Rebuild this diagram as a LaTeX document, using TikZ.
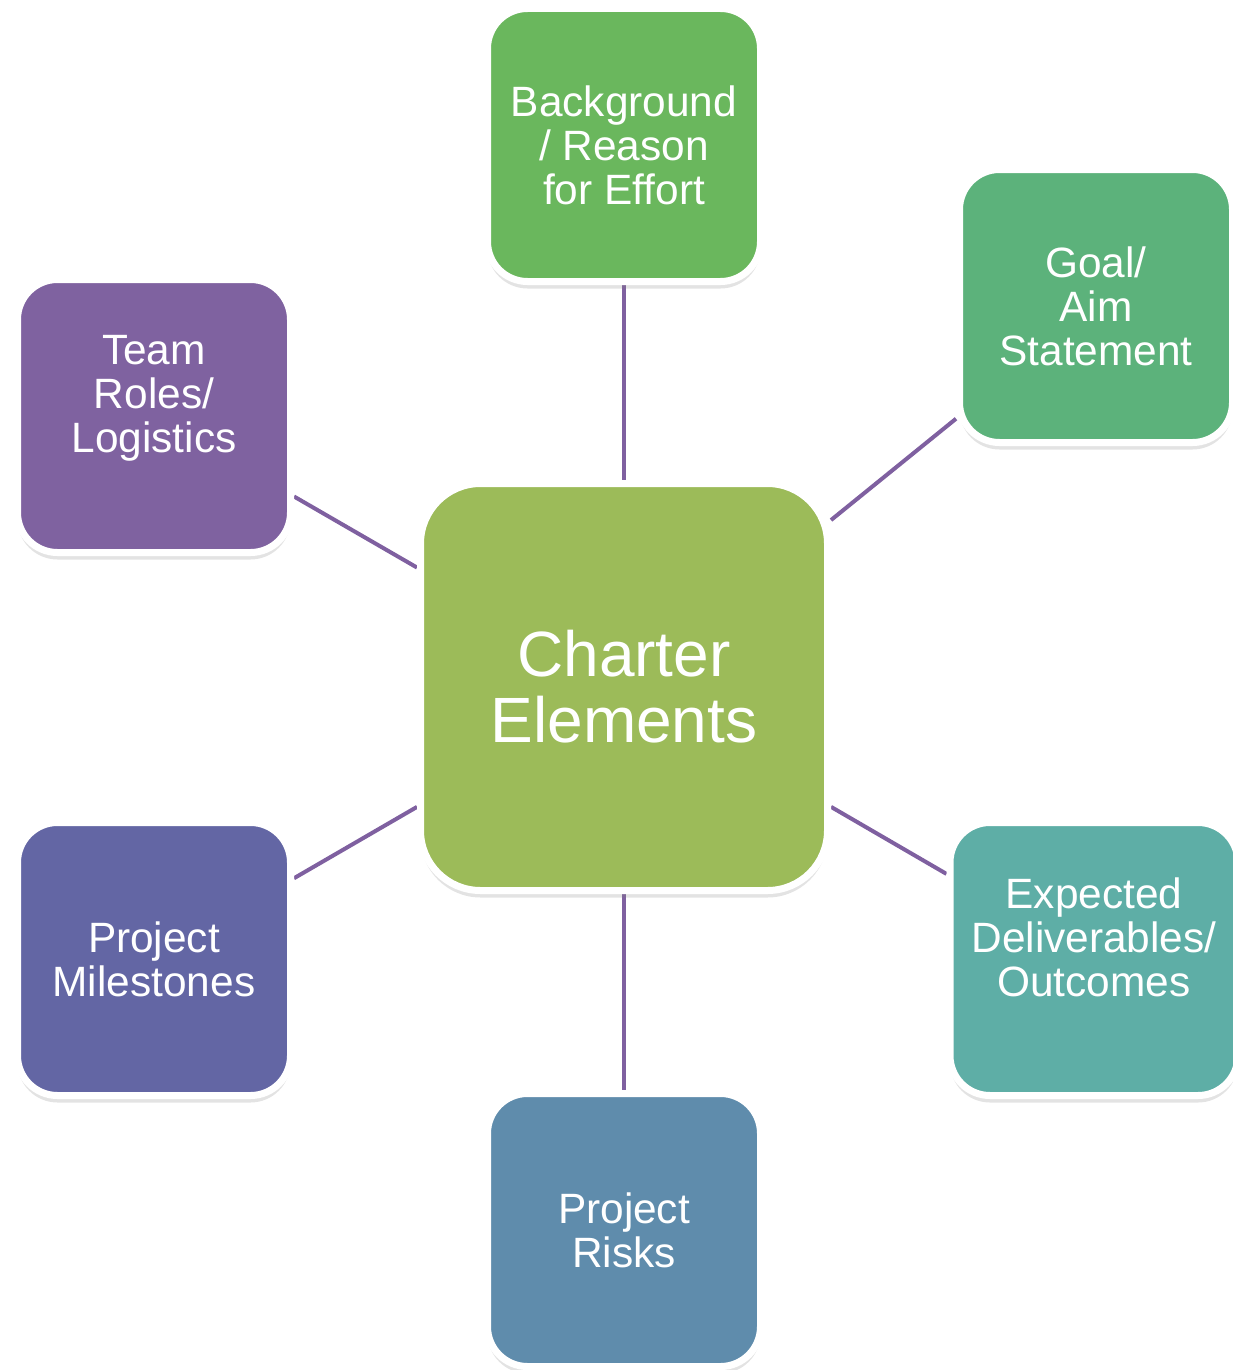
\documentclass[tikz,border=0pt]{standalone}
\usepackage{fontspec}
\setmainfont{Liberation Sans}
\definecolor{bggreen}{RGB}{106, 183, 93}
\definecolor{goalgreen}{RGB}{92, 178, 123}
\definecolor{outteal}{RGB}{94, 174, 166}
\definecolor{riskblue}{RGB}{95, 140, 172}
\definecolor{mileblue}{RGB}{99, 102, 164}
\definecolor{teampurple}{RGB}{127, 98, 160}
\definecolor{hubgreen}{RGB}{156, 187, 89}
\definecolor{linkpurple}{RGB}{127, 96, 160}
\usetikzlibrary{shadows, backgrounds}

\begin{document}
\begin{tikzpicture}[x=0.5pt, y=-0.5pt,
    elem/.style={rectangle, rounded corners=20pt, draw=white, line width=3.5pt,
      minimum width=136.5pt, minimum height=136.5pt, align=center,
      text=white, font=\fontsize{21.2}{22}\selectfont,
      drop shadow={shadow xshift=0pt, shadow yshift=-3.5pt, opacity=0.22}},
    hub/.style={elem, rounded corners=30pt, minimum width=203.5pt,
      minimum height=203.5pt, font=\fontsize{32}{33}\selectfont},
    link/.style={draw=linkpurple, line width=2pt}]
  \useasboundingbox (0,0) rectangle (1232,1370);

  % centre and the six elements round it
  \node[hub, fill=hubgreen] (charter) at (624,687) {Charter\\Elements};
  \node[elem, fill=bggreen] (background) at (624,145) {Background\\/ Reason\\for Effort};
  \node[elem, fill=goalgreen] (goal) at (1096,306) {Goal/\\Aim\\Statement};
  \node[elem, fill=outteal, minimum width=144pt] (outcomes) at (1094,959) {Expected\\Deliverables/\\Outcomes\\\mbox{}};
  \node[elem, fill=riskblue] (risks) at (624,1230) {Project\\Risks};
  \node[elem, fill=mileblue] (milestones) at (154,959) {Project\\Milestones};
  \node[elem, fill=teampurple] (team) at (154,416) {Team\\Roles/\\Logistics\\\mbox{}};

  \begin{scope}[on background layer]
    \foreach \n in {background, goal, outcomes, risks, milestones, team}
      \draw[link] (charter) -- (\n);
  \end{scope}
\end{tikzpicture}
\end{document}
